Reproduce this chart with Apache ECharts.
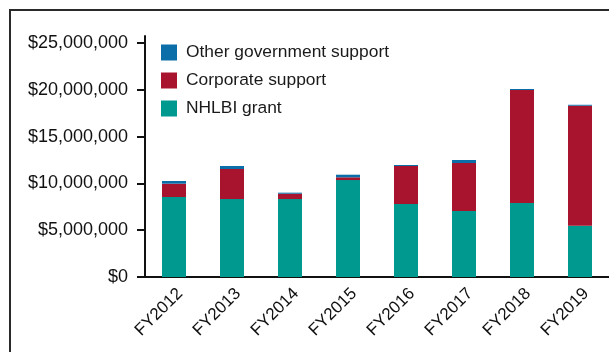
<!DOCTYPE html>
<html>
<head>
<meta charset="utf-8">
<script src="https://cdn.jsdelivr.net/npm/echarts@6/dist/echarts.min.js"></script>
<style>
html,body{margin:0;padding:0;background:#fff;}
#chart{width:609px;height:352px;}
</style>
</head>
<body>
<div id="chart"></div>
<script>
// ---- data ----
var categories = ['FY2012','FY2013','FY2014','FY2015','FY2016','FY2017','FY2018','FY2019'];
var nhlbiGrant = [8550000, 8330000, 8330000, 10360000, 7800000, 7050000, 7900000, 5480000];
var corporateSupport = [1420000, 3210000, 570000, 290000, 4060000, 5130000, 12080000, 12820000];
var otherGovSupport = [290000, 320000, 110000, 280000, 110000, 320000, 110000, 100000];
var yTicks = [0, 5000000, 10000000, 15000000, 20000000, 25000000];
var seriesNames = ['NHLBI grant', 'Corporate support', 'Other government support'];

function fmtMoney(v){
  return '$' + String(Math.round(v)).replace(/\B(?=(\d{3})+(?!\d))/g, ',');
}

var chart = echarts.init(document.getElementById('chart'), null, {renderer:'canvas'});
var font = 'Liberation Sans, Arial, Helvetica, sans-serif';
chart.setOption({
  animation:false,
  backgroundColor:'#ffffff',
  graphic:[{
    type:'rect',
    shape:{x:10,y:10,width:640,height:400},
    style:{fill:'none',stroke:'#2a2a2a',lineWidth:2},
    silent:true
  }],
  legend:{
    orient:'vertical',
    left:161, top:44, padding:0,
    itemWidth:16, itemHeight:16, itemGap:11,
    icon:'rect',
    data:[seriesNames[2], seriesNames[1], seriesNames[0]],
    textStyle:{fontFamily:font,fontSize:17.4,color:'#1a1a1a',padding:[0,0,0,4]}
  },
  grid:{left:145, top:36, right:-3.4, bottom:75, containLabel:false},
  xAxis:{
    type:'category',
    data:categories,
    axisLine:{lineStyle:{color:'#111',width:2}},
    axisTick:{show:false},
    axisLabel:{rotate:45,fontFamily:font,fontSize:17,color:'#111',margin:8,interval:0,verticalAlign:'top'}
  },
  yAxis:{
    type:'value',
    min:0,
    max:25750000,
    splitLine:{show:false},
    axisLine:{show:true,lineStyle:{color:'#111',width:2}},
    axisTick:{show:true,length:8,lineStyle:{color:'#111',width:2},customValues:yTicks},
    axisLabel:{fontFamily:font,fontSize:18,color:'#111',margin:17,customValues:yTicks,formatter:fmtMoney}
  },
  series:[
    {name:seriesNames[0],type:'bar',stack:'t',barWidth:24,data:nhlbiGrant,itemStyle:{color:'#009990'}},
    {name:seriesNames[1],type:'bar',stack:'t',barWidth:24,data:corporateSupport,itemStyle:{color:'#a8142e'}},
    {name:seriesNames[2],type:'bar',stack:'t',barWidth:24,data:otherGovSupport,itemStyle:{color:'#0b6ea8'}}
  ]
});
</script>
</body>
</html>
